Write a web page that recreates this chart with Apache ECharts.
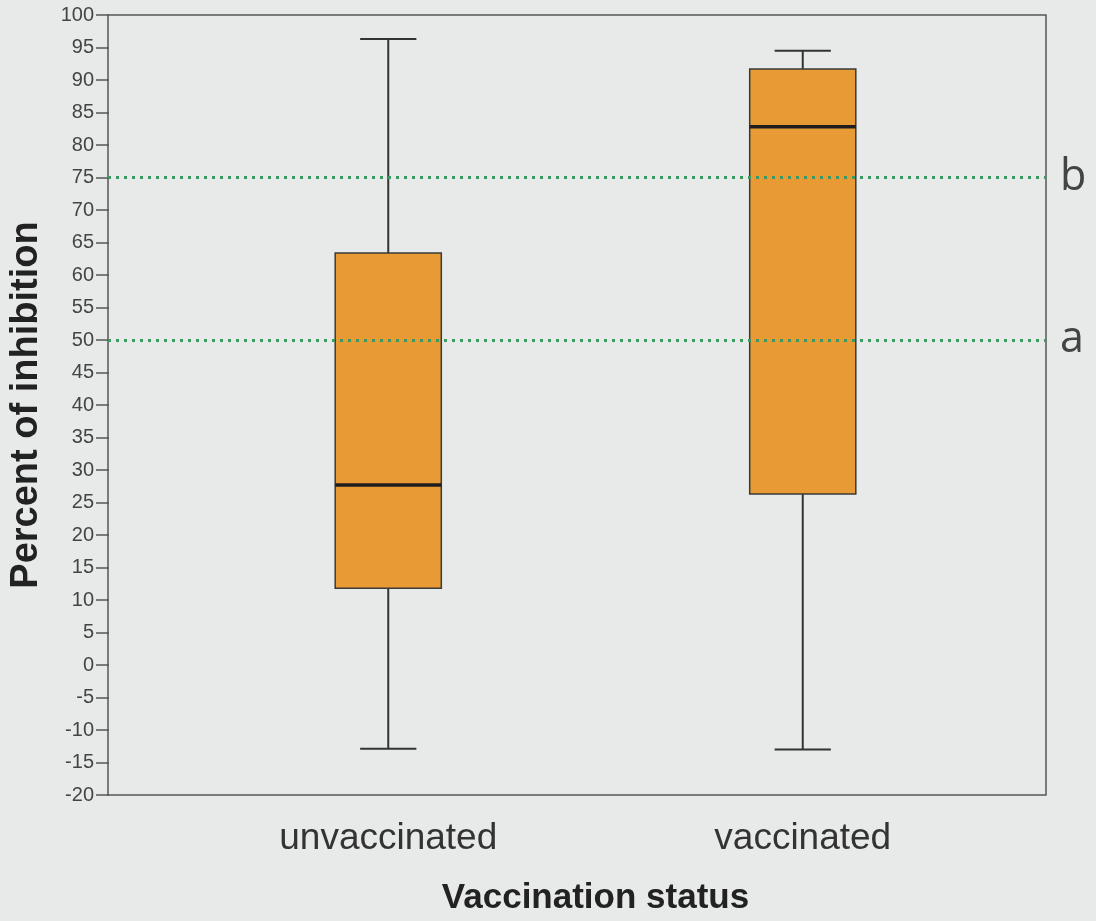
<!DOCTYPE html>
<html>
<head>
<meta charset="utf-8">
<style>
  html, body { margin: 0; padding: 0; background: #e7eae8; }
  #chart { width: 1096px; height: 921px; }
</style>
<script src="https://cdn.jsdelivr.net/npm/echarts@6/dist/echarts.min.js"></script>
</head>
<body>
<div id="chart"></div>
<script>
// values
const categories = ['unvaccinated', 'vaccinated']
const whiskerLow = [-12.9, -13]
const quartile1 = [11.8, 26.3]
const medians = [27.7, 82.8]
const quartile3 = [63.4, 91.7]
const whiskerHigh = [96.3, 94.5]
const cutoffs = [50, 75]
const cutoffNames = ['a', 'b']

const boxData = categories.map((c, i) => [i, whiskerLow[i], quartile1[i], medians[i], quartile3[i], whiskerHigh[i]])

const chart = echarts.init(document.getElementById('chart'))

function renderBox(params, api) {
  const x = api.value(0)
  const band = api.size([1, 0])[0]
  const half = band * 0.128
  const cap = half * 0.53
  const pLow = api.coord([x, api.value(1)])
  const pQ1 = api.coord([x, api.value(2)])
  const pMed = api.coord([x, api.value(3)])
  const pQ3 = api.coord([x, api.value(4)])
  const pHigh = api.coord([x, api.value(5)])
  const cx = pMed[0]
  const stroke = { stroke: '#333', lineWidth: 2 }
  return {
    type: 'group',
    children: [
      { type: 'line', shape: { x1: cx, y1: pLow[1], x2: cx, y2: pQ1[1] }, style: stroke },
      { type: 'line', shape: { x1: cx, y1: pQ3[1], x2: cx, y2: pHigh[1] }, style: stroke },
      { type: 'line', shape: { x1: cx - cap, y1: pLow[1], x2: cx + cap, y2: pLow[1] }, style: stroke },
      { type: 'line', shape: { x1: cx - cap, y1: pHigh[1], x2: cx + cap, y2: pHigh[1] }, style: stroke },
      {
        type: 'rect',
        shape: { x: cx - half, y: pQ3[1], width: half * 2, height: pQ1[1] - pQ3[1] },
        style: { fill: '#e89a35', stroke: '#3a3a3a', lineWidth: 1.5 }
      },
      { type: 'line', shape: { x1: cx - half, y1: pMed[1], x2: cx + half, y2: pMed[1] }, style: { stroke: '#1e1e1e', lineWidth: 3.5 } }
    ]
  }
}

chart.setOption({
  backgroundColor: '#e7eae8',
  animation: false,
  grid: [
    { left: 177, right: 86, top: 15, bottom: 126 },
    { left: 108, right: 50, top: 15, bottom: 126, show: true, borderColor: '#555', borderWidth: 1.5, backgroundColor: 'transparent' }
  ],
  xAxis: [{
    type: 'category',
    gridIndex: 0,
    data: categories,
    boundaryGap: true,
    axisLine: { show: false },
    axisTick: { alignWithLabel: true, length: 13, lineStyle: { color: '#444', width: 1.5 } },
    axisLabel: { margin: 25, fontSize: 37, color: '#333', fontFamily: 'Liberation Sans' },
    name: 'Vaccination status',
    nameLocation: 'middle',
    nameGap: 86,
    nameTextStyle: { fontSize: 35, fontWeight: 'bold', color: '#222', fontFamily: 'Liberation Sans' },
    splitLine: { show: false }
  }, {
    type: 'value',
    gridIndex: 1,
    min: 0,
    max: 1,
    show: false
  }],
  yAxis: [{
    type: 'value',
    gridIndex: 0,
    min: -20,
    max: 100,
    interval: 5,
    offset: 72,
    axisLine: { show: false },
    axisTick: { show: true, length: 13, lineStyle: { color: '#555', width: 1.5 } },
    axisLabel: { margin: 15, fontSize: 20, color: '#444', fontFamily: 'Liberation Sans' },
    splitLine: { show: false },
    name: 'Percent of inhibition',
    nameLocation: 'middle',
    nameGap: 63,
    nameTextStyle: { fontSize: 38, fontWeight: 'bold', color: '#222', fontFamily: 'Liberation Sans' }
  }, {
    type: 'value',
    gridIndex: 1,
    min: -20,
    max: 100,
    show: false
  }],
  series: [{
    type: 'custom',
    xAxisIndex: 0,
    yAxisIndex: 0,
    renderItem: renderBox,
    encode: { x: 0, y: [1, 2, 3, 4, 5] },
    data: boxData,
    z: 2
  }, {
    type: 'line',
    xAxisIndex: 1,
    yAxisIndex: 1,
    data: [],
    z: 5,
    markLine: {
      silent: true,
      symbol: ['none', 'none'],
      lineStyle: { color: '#3a9a62', type: [3, 5], width: 3 },
      label: {
        show: true,
        position: 'end',
        distance: 14,
        fontSize: 43,
        color: '#444',
        fontFamily: 'Open Sans',
        formatter: p => p.name
      },
      data: cutoffs.map((v, i) => ({ yAxis: v, name: cutoffNames[i] }))
    }
  }]
})
</script>
</body>
</html>
